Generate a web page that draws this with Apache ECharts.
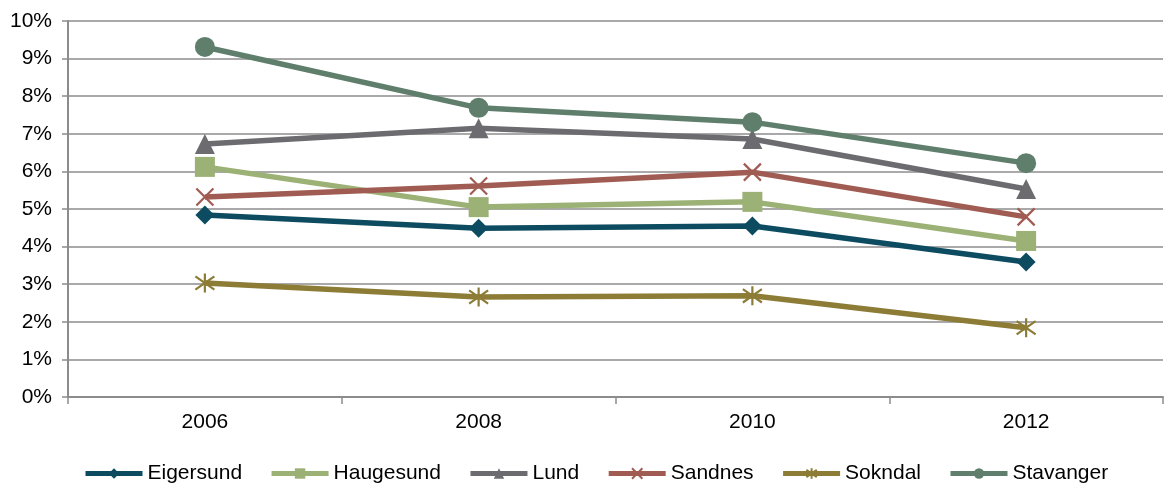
<!DOCTYPE html>
<html><head><meta charset="utf-8">
<script src="https://cdn.jsdelivr.net/npm/echarts@6/dist/echarts.min.js"></script>
<style>html,body{margin:0;padding:0;background:#fff}#c{width:1166px;height:483px}</style>
</head><body><div id="c"></div>
<script>
const years = ['2006','2008','2010','2012'];
const eigersund = [4.84, 4.49, 4.55, 3.59];
const haugesund = [6.12, 5.05, 5.19, 4.15];
const lund = [6.73, 7.15, 6.86, 5.53];
const sandnes = [5.32, 5.61, 5.98, 4.79];
const sokndal = [3.03, 2.66, 2.69, 1.84];
const stavanger = [9.31, 7.69, 7.31, 6.22];

const crossPath = 'path://M0,0L10,10M10,0L0,10';
const starPath = 'path://M5,0L5,10M0,1.5L10,8.5M10,1.5L0,8.5';

function mk(name, data, color, symbol, size, stroke){
  const s = {name, type:'line', data, symbol, symbolSize:size, showSymbol:true,
    lineStyle:{color, width:5.5}, itemStyle:{color}, z: 2};
  if (stroke){ s.itemStyle = {color:'rgba(0,0,0,0)', borderColor:color, borderWidth:2.2}; }
  return s;
}

const font = 'Liberation Sans, Arial';
const chart = echarts.init(document.getElementById('c'), null, {renderer:'canvas'});
chart.setOption({
  animation:false,
  backgroundColor:'#fff',
  grid:{left:68, right:3, top:21, bottom:86},
  legend:{left:78, top:458, itemWidth:57, itemHeight:13, itemGap:27,
    lineStyle:{width:5},
    textStyle:{fontFamily:font, fontSize:21, color:'#000'},
    data:['Eigersund','Haugesund','Lund','Sandnes','Sokndal','Stavanger']},
  xAxis:{type:'category', data:years, boundaryGap:true,
    axisLine:{lineStyle:{color:'#8c8c8c', width:2}},
    axisTick:{show:true, length:7, lineStyle:{color:'#8c8c8c', width:1.5}},
    axisLabel:{fontFamily:font, fontSize:21, color:'#000', margin:15},
    splitLine:{show:false}},
  yAxis:{type:'value', min:0, max:10, interval:1,
    axisLine:{show:true, lineStyle:{color:'#8c8c8c', width:2}},
    axisTick:{show:true, length:6, lineStyle:{color:'#8c8c8c', width:1.5}},
    axisLabel:{fontFamily:font, fontSize:21, color:'#000', margin:16, formatter:'{value}%'},
    splitLine:{show:true, lineStyle:{color:'#8c8c8c', width:1.5}}},
  series:[
    mk('Eigersund', eigersund, '#0d4b60', 'diamond', 19),
    mk('Haugesund', haugesund, '#9bb175', 'rect', 20),
    mk('Lund', lund, '#6c6b70', 'triangle', 20),
    mk('Sandnes', sandnes, '#a05c52', crossPath, 17, true),
    mk('Sokndal', sokndal, '#8c7c35', starPath, 19, true),
    mk('Stavanger', stavanger, '#5f7f6c', 'circle', 20)
  ]
});
</script></body></html>
